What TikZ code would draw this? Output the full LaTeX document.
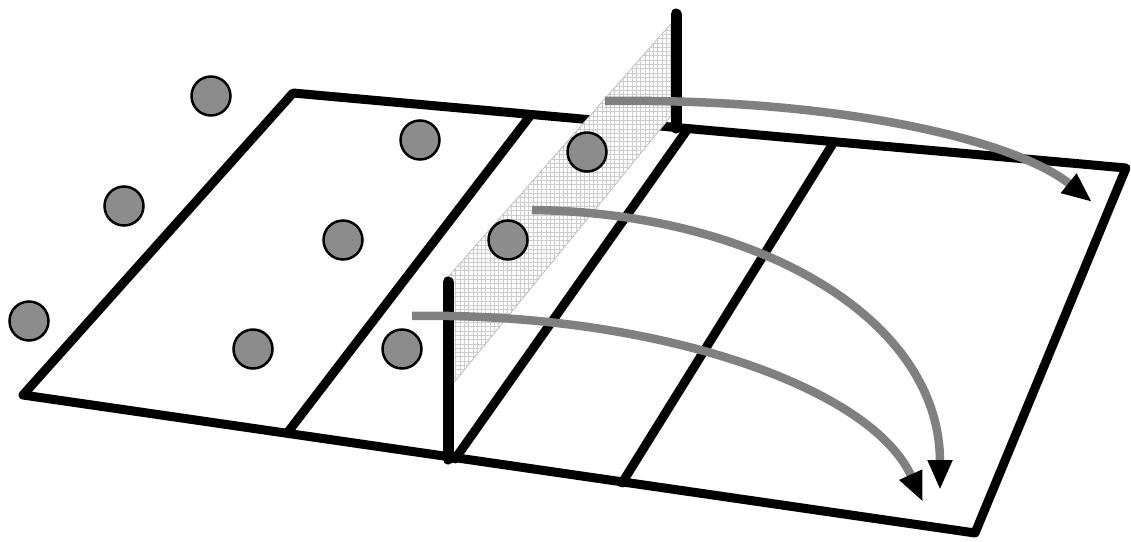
\documentclass[tikz,border=0pt]{standalone}
\usetikzlibrary{arrows.meta}
\begin{document}
\begin{tikzpicture}[x=1pt,y=-1pt,
  courtline/.style={line width=9pt, line join=round, line cap=round},
  post/.style={line width=11pt, line cap=round},
  ball/.style={circle, draw=black, line width=2.5pt, fill=black!45, minimum size=39pt, inner sep=0pt},
  shot/.style={draw=black!50, line width=8.5pt, -{Triangle[length=30pt,width=23pt,color=black]}}]
\useasboundingbox (0,0) rectangle (1131,541);
% court corners
\coordinate (A) at (23,395);
\coordinate (B) at (293,93);
\coordinate (C) at (1126,168);
\coordinate (D) at (975,533);
\draw[courtline] (A) -- (B) -- (C) -- (D) -- cycle;
% lines across the court
\coordinate (l1t) at (530,116); \coordinate (l1b) at (288,432);
\coordinate (cnt) at (687,130); \coordinate (cnb) at (455,459);
\coordinate (r1t) at (832,145); \coordinate (r1b) at (622,483);
\draw[courtline] (l1t) -- (l1b);
\draw[courtline] (cnt) -- (cnb);
\draw[courtline] (r1t) -- (r1b);
% net
\coordinate (n1) at (676,18);
\coordinate (n2) at (676,110);
\coordinate (n3) at (448,390);
\coordinate (n4) at (448,277);
\begin{scope}
  \clip (n1) -- (n2) -- (n3) -- (n4) -- cycle;
  \fill[white] (400,0) rectangle (700,400);
  \draw[black!20, line width=1pt] (400,0) grid[step=4.3pt] (700,400);
\end{scope}
\draw[black!25, line width=0.8pt] (n1) -- (n4);
\draw[black!25, line width=0.8pt] (n2) -- (n3);
% posts
\coordinate (lpt) at (448,282); \coordinate (lpb) at (448,459);
\coordinate (rpt) at (676,14); \coordinate (rpb) at (676,128);
\draw[post] (lpt) -- (lpb);
\draw[post] (rpt) -- (rpb);
% players
\node[ball] (p1) at (211,96) {};
\node[ball] (p2) at (124,206) {};
\node[ball] (p3) at (29,321) {};
\node[ball] (p4) at (253,349) {};
\node[ball] (p5) at (420,140) {};
\node[ball] (p6) at (343,240) {};
\node[ball] (p7) at (402,349) {};
\node[ball] (p8) at (587,152) {};
\node[ball] (p9) at (508,240) {};
% shots
\coordinate (s1) at (605,101); \coordinate (e1) at (1092,202);
\coordinate (s2) at (532,210); \coordinate (e2) at (940,490);
\coordinate (s3) at (412,316); \coordinate (e3) at (923,502);
\draw[shot] (s1) .. controls (840,98) and (1015,140) .. (e1);
\draw[shot] (s2) .. controls (760,213) and (940,320) .. (e2);
\draw[shot] (s3) .. controls (650,312) and (870,385) .. (e3);
\end{tikzpicture}
\end{document}
